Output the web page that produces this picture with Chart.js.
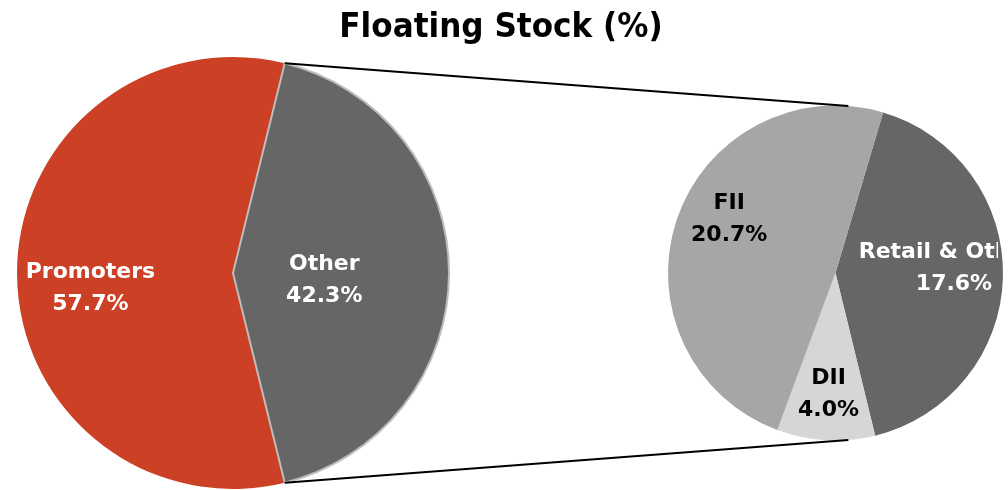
<!DOCTYPE html>
<html lang="en">
<head>
    <meta charset="UTF-8">
    <title>Floating Stock (%)</title>
    <script src="https://cdn.jsdelivr.net/npm/chart.js@4.4.1/dist/chart.umd.min.js"></script>
    <style>
        body { margin: 0; background: #fff; }
        #wrap { position: relative; width: 1008px; height: 490px; overflow: hidden; }
        #wrap canvas { position: absolute; left: 0; top: 0; }
        #title {
            position: absolute; left: 0; top: 8px; width: 1002px;
            text-align: center; font: bold 34px "DejaVu Sans"; line-height: 34px;
            color: #000; z-index: 3; transform: scaleX(0.915);
        }
    </style>
</head>
<body>
<div id="wrap">
    <div id="title">Floating Stock (%)</div>
    <canvas id="mainPie" width="1008" height="490"></canvas>
    <canvas id="splitPie" width="1008" height="490"></canvas>
</div>

<script>
    // shareholding
    const mainLabels = ["Promoters", "Other"];
    const mainValues = [57.7, 42.3];
    // breakdown of "Other"
    const splitLabels = ["Retail & Others", "DII", "FII"];
    const splitValues = [17.6, 4.0, 20.7];

    const mainColors = ["#CC4125", "#666666"];
    const splitColors = ["#666666", "#D6D6D6", "#A6A6A6"];
    const labelColors = {"Promoters": "#fff", "Other": "#fff", "Retail & Others": "#fff", "DII": "#000", "FII": "#000"};
    // [radius fraction, angle nudge in degrees]
    const labelSpots = {
        "Promoters": [0.664, -6.2],
        "Other": [0.424, 4.7],
        "Retail & Others": [0.708, -3.6],
        "DII": [0.724, 0],
        "FII": [0.71, 8.2]
    };

    const totalMain = mainValues.reduce((a, b) => a + b, 0);
    const promoSpan = mainValues[0] / totalMain * 360;
    const otherSpan = mainValues[1] / totalMain * 360;
    const mainRotation = 90 - promoSpan - otherSpan / 2;

    const sliceLabels = {
        id: "sliceLabels",
        afterDatasetsDraw(chart, args, opts) {
            const ctx = chart.ctx;
            const meta = chart.getDatasetMeta(0);
            const ds = chart.data.datasets[0];
            ctx.save();
            if (opts.clipRight) {
                ctx.beginPath();
                ctx.rect(0, 0, opts.clipRight, chart.height);
                ctx.clip();
            }
            ctx.font = "bold 22px 'DejaVu Sans'";
            ctx.textAlign = "center";
            ctx.textBaseline = "middle";
            meta.data.forEach((arc, i) => {
                const name = chart.data.labels[i];
                const spot = labelSpots[name] || [0.65, 0];
                const mid = (arc.startAngle + arc.endAngle) / 2 + spot[1] * Math.PI / 180;
                const r = arc.outerRadius * spot[0];
                const x = arc.x + Math.cos(mid) * r;
                const y = arc.y + Math.sin(mid) * r;
                ctx.fillStyle = labelColors[name] || "#000";
                ctx.fillText(name, x, y - 16);
                ctx.fillText(ds.data[i].toFixed(1) + "%", x, y + 16);
            });
            ctx.restore();
        }
    };

    const mainChart = new Chart(document.getElementById("mainPie"), {
        type: "pie",
        data: {
            labels: mainLabels,
            datasets: [{
                data: mainValues,
                backgroundColor: mainColors,
                borderColor: ["#CC4125", "#BDBDBD"],
                borderWidth: [0, 2]
            }]
        },
        options: {
            responsive: false,
            animation: false,
            rotation: mainRotation,
            layout: { padding: { left: 16, right: 558, top: 56, bottom: 0 } },
            plugins: { legend: { display: false }, tooltip: { enabled: false }, sliceLabels: {} },
            events: []
        },
        plugins: [sliceLabels]
    });

    const connectors = {
        id: "connectors",
        afterDraw(chart) {
            const other = mainChart.getDatasetMeta(0).data[1];
            const right = chart.getDatasetMeta(0).data[0];
            const tilt = 4.4 * Math.PI / 180;
            const a1 = other.startAngle, a2 = other.endAngle;
            const p1 = [other.x + Math.cos(a1) * other.outerRadius, other.y + Math.sin(a1) * other.outerRadius];
            const p2 = [other.x + Math.cos(a2) * other.outerRadius, other.y + Math.sin(a2) * other.outerRadius];
            const b1 = -Math.PI / 2 + tilt, b2 = Math.PI / 2 - tilt;
            const q1 = [right.x + Math.cos(b1) * right.outerRadius, right.y + Math.sin(b1) * right.outerRadius];
            const q2 = [right.x + Math.cos(b2) * right.outerRadius, right.y + Math.sin(b2) * right.outerRadius];
            const ctx = chart.ctx;
            ctx.save();
            ctx.strokeStyle = "#000";
            ctx.lineWidth = 2;
            ctx.beginPath();
            ctx.moveTo(p1[0], p1[1]); ctx.lineTo(q1[0], q1[1]);
            ctx.moveTo(p2[0], p2[1]); ctx.lineTo(q2[0], q2[1]);
            ctx.stroke();
            ctx.restore();
        }
    };

    const splitChart = new Chart(document.getElementById("splitPie"), {
        type: "pie",
        data: {
            labels: splitLabels,
            datasets: [{
                data: splitValues,
                backgroundColor: splitColors,
                borderWidth: 0
            }]
        },
        options: {
            responsive: false,
            animation: false,
            rotation: 16.5,
            layout: { padding: { left: 668, right: 5, top: 105, bottom: 49 } },
            plugins: { legend: { display: false }, tooltip: { enabled: false }, sliceLabels: { clipRight: 998 } },
            events: []
        },
        plugins: [sliceLabels, connectors]
    });
</script>
</body>
</html>
